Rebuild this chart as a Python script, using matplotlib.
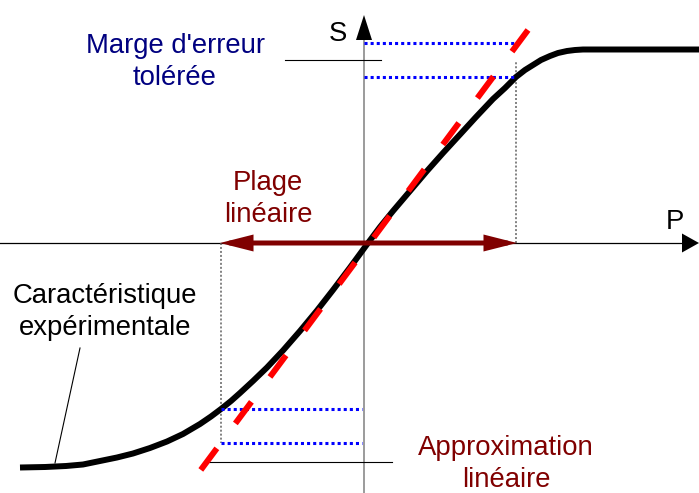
import matplotlib
matplotlib.use("Agg")
import matplotlib.pyplot as plt
from matplotlib.patches import Polygon, FancyArrowPatch

plt.rcParams['font.family'] = ['Liberation Sans', 'DejaVu Sans']

# measured characteristic S(P), origin at the axes crossing
curve_p = [-344, -319, -298, -281, -264, -247, -231, -214, -197, -181, -164,
           -153, -143, -133, -124, -111, -97, -81, -64, -47, -31, -14, 4,
           16, 29, 46, 63, 79, 96, 112, 129, 141, 152, 161, 169, 177, 186,
           194, 203, 211, 219, 236, 335]
curve_s = [-224.5, -224, -223, -221.5, -218, -214.5, -210.5, -205, -198.5,
           -191, -181, -173.5, -166, -158, -150, -138, -124.5, -107.5, -88,
           -67.5, -47, -24.5, 0,
           16, 32, 52, 72, 90, 108.5, 126, 144, 155, 166, 173, 178, 183,
           187, 190, 192, 193, 193.5, 193.5, 193.5]

# linear approximation (end points of the dashed line)
approx_p = [-164, 164]
approx_s = [-228, 213]

# linear range limits and the S values reached there
plage_p = [-143, 152]
curve_lim = [-166, 166]
approx_lim = [-200, 200]

# leader lines: (p0, p1, s0, s1)
leaders = [(-79, 17, 183, 183), (-157, 28, -219, -219), (-284, -309, -105, -220)]

RED_DARK = '#800000'
NAVY = '#000080'

fig = plt.figure(figsize=(6.99, 4.93), dpi=100)
ax = fig.add_axes([0, 0, 1, 1])
ax.set_xlim(-364, 335)
ax.set_ylim(-250, 243)
ax.axis('off')

# axes with arrow heads
ax.plot([-364, 318], [0, 0], color='black', lw=0.9, zorder=1)
ax.plot([0, 0], [-250, 203], color='#808080', lw=1.1, zorder=1)
ax.add_patch(Polygon([[318, 9.5], [318, -9.5], [335, 0]], closed=True,
                     color='black', lw=0, zorder=2))
ax.add_patch(Polygon([[-8, 203], [8, 203], [0, 228]], closed=True,
                     color='black', lw=0, zorder=2))

# thin leader lines
for p0, p1, s0, s1 in leaders:
    ax.plot([p0, p1], [s0, s1], color='black', lw=0.8, zorder=1)

# grey dotted verticals at the range limits
ax.plot([plage_p[1], plage_p[1]], [0, 181], color='#606060', lw=1.1,
        linestyle=(0, (1.3, 1.3)), zorder=1)
ax.plot([plage_p[0], plage_p[0]], [0, approx_lim[0]], color='#606060', lw=1.1,
        linestyle=(0, (1.3, 1.3)), zorder=1)

# error margin, blue dotted
for s in (approx_lim[1], curve_lim[1]):
    ax.plot([0, plage_p[1] - 1], [s, s], color='#0000ff', lw=2.2,
            linestyle=(0, (1, 1)), dash_capstyle='butt', zorder=4)
for s in (curve_lim[0], approx_lim[0]):
    ax.plot([plage_p[0], -2], [s, s], color='#0000ff', lw=2.2,
            linestyle=(0, (1, 1)), dash_capstyle='butt', zorder=4)

# characteristic
ax.plot(curve_p, curve_s, color='black', lw=4.3, solid_joinstyle='round',
        solid_capstyle='butt', zorder=3)

# linear approximation
ax.plot(approx_p[::-1], approx_s[::-1], color='#ff0000', lw=4.3,
        linestyle=(0, (4.5, 5.2)), dash_capstyle='butt', zorder=5)

# linear range double arrow
arr = FancyArrowPatch((plage_p[0] - 1, 0), (plage_p[1] + 1, 0),
                      arrowstyle='<|-|>,head_length=15,head_width=3.8',
                      mutation_scale=1, color=RED_DARK, lw=3.6,
                      shrinkA=0, shrinkB=0, joinstyle='miter', zorder=6)
ax.add_patch(arr)


def label(lines, x, y, color):
    # x, y in pixels from the top-left corner, baseline of the first line
    for i, t in enumerate(lines):
        ax.text(x - 364, 243 - (y + 32 * i), t, color=color, fontsize=19.8,
                ha='center', va='baseline', zorder=7)


label(['S'], 338, 41, 'black')
label(['P'], 675, 229, 'black')
label(["Marge d'erreur", 'tolérée'], 175, 53, NAVY)
label(['Plage', 'linéaire'], 268, 190, RED_DARK)
label(['Caractéristique', 'expérimentale'], 105, 303, 'black')
label(['Approximation', 'linéaire'], 506, 455, RED_DARK)

fig.savefig('out.png', dpi=100)
